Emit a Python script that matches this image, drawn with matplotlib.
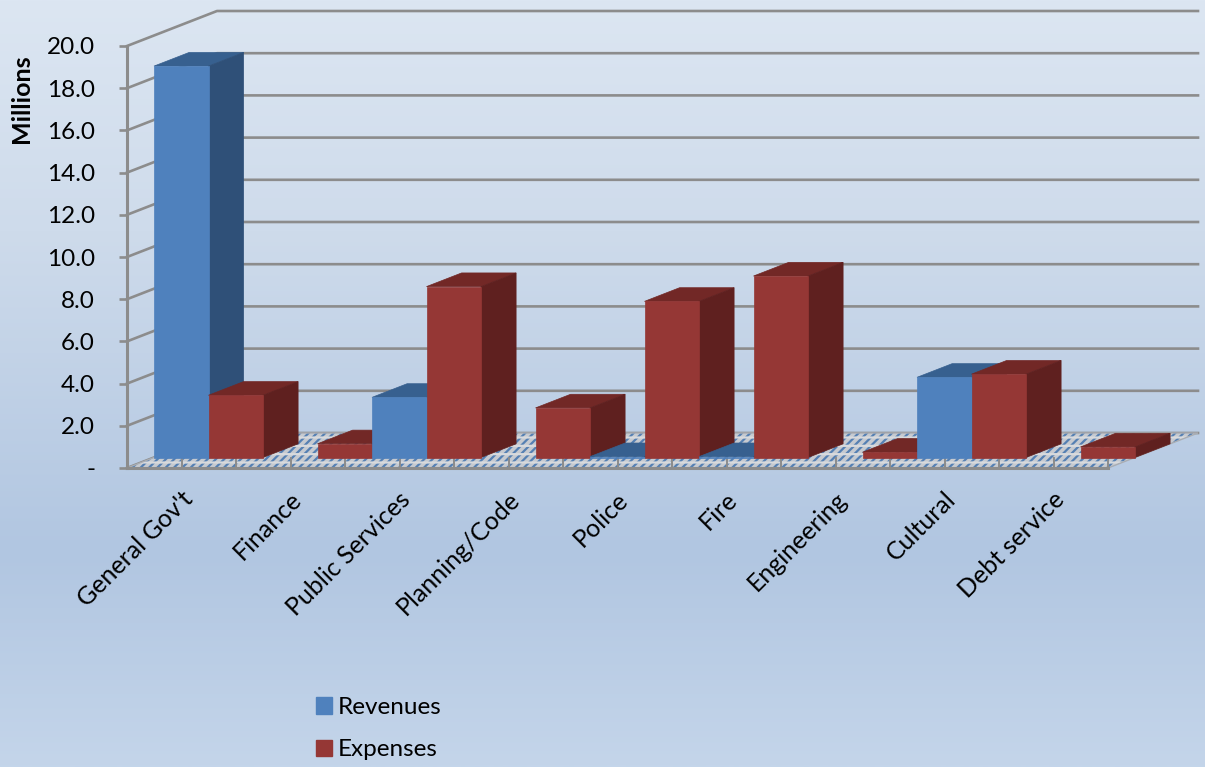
import matplotlib
matplotlib.use("Agg")
import numpy as np
import matplotlib.pyplot as plt
from matplotlib.patches import Polygon, Patch
from matplotlib.colors import LinearSegmentedColormap
from matplotlib.transforms import ScaledTranslation

categories = ["General Gov't", "Finance", "Public Services", "Planning/Code", "Police",
              "Fire", "Engineering", "Cultural", "Debt service"]
revenues = [18.55, 0.0, 2.85, 0.0, 0.04, 0.04, 0.0, 3.8, 0.0]
expenses = [2.95, 0.65, 8.1, 2.35, 7.4, 8.6, 0.25, 3.95, 0.5]
y_ticks = [0, 2, 4, 6, 8, 10, 12, 14, 16, 18, 20]
y_labels = ["-", "2.0", "4.0", "6.0", "8.0", "10.0", "12.0", "14.0", "16.0", "18.0", "20.0"]

plt.rcParams['font.family'] = ['Lato', 'DejaVu Sans']
plt.rcParams['hatch.linewidth'] = 1.6

W, H = 1205, 767
FS = 17.5
fig = plt.figure(figsize=(W / 100, H / 100), dpi=100)

bg = fig.add_axes([0, 0, 1, 1], zorder=-1)
cmap = LinearSegmentedColormap.from_list("bg", [(0, "#dce6f2"), (0.3, "#cedbeb"), (0.72, "#b1c6e1"), (1, "#c4d5ea")])
bg.imshow(np.linspace(0, 1, 256).reshape(-1, 1), cmap=cmap, aspect="auto", extent=[0, 1, 0, 1], origin="upper")
bg.axis("off")

ax = fig.add_axes([127 / W, (H - 468) / H, 981 / W, 422 / H])
ax.patch.set_visible(False)
ax.set_xlim(0, len(categories))
ax.set_ylim(0, 20)

# oblique projection of the depth axis, in data units
DX = 90 / 109
DY = 35 / 21.1
D0, D1 = 0.3, 0.69
GRID = "#8c8c8c"


def pt(x, y, d):
    return (x + DX * d, y + DY * d)


def box(x0, x1, v, front, top, side, z):
    ax.add_patch(Polygon([pt(x0, v, D0), pt(x1, v, D0), pt(x1, v, D1), pt(x0, v, D1)],
                         closed=True, fc=top, ec=top, lw=0.5, clip_on=False, zorder=z))
    ax.add_patch(Polygon([pt(x1, 0, D0), pt(x1, 0, D1), pt(x1, v, D1), pt(x1, v, D0)],
                         closed=True, fc=side, ec=side, lw=0.5, clip_on=False, zorder=z))
    ax.add_patch(Polygon([pt(x0, 0, D0), pt(x1, 0, D0), pt(x1, v, D0), pt(x0, v, D0)],
                         closed=True, fc=front, ec=front, lw=0.5, clip_on=False, zorder=z))


n = len(categories)
floor = [pt(0, 0, 0), pt(n, 0, 0), pt(n, 0, 1), pt(0, 0, 1)]
# floor: blue ground with pale diagonal dashes broken by blue bands
ax.add_patch(Polygon(floor, closed=True, fc="#c6cad0", ec="#5580b3", hatch="////", lw=0, clip_on=False, zorder=1))
ax.add_patch(Polygon(floor, closed=True, fill=False, ec="#d8dadd", hatch="--", lw=0, clip_on=False, zorder=1.05))
ax.add_patch(Polygon(floor, closed=True, fill=False, ec="#a9adb3", lw=1, clip_on=False, zorder=1.1))
# walls and floor divisions
for t in y_ticks:
    ax.plot([0, DX, n + DX], [t, t + DY, t + DY], color=GRID, lw=1.9, clip_on=False, zorder=0.5)
for i in range(2 * n + 1):
    x = i / 2
    ax.plot([x, x], [0, DY * D0], color=GRID, lw=1.4, clip_on=False, zorder=1.2)

# bars
z = 2
for i in range(n):
    if revenues[i] > 0:
        box(i, i + 0.5, revenues[i], "#4f81bd", "#37608f", "#2f5078", z)
    z += 1
    if expenses[i] > 0:
        box(i + 0.5, i + 1, expenses[i], "#953735", "#722826", "#5f201f", z)
    z += 1

# axes furniture
for s in ("top", "right"):
    ax.spines[s].set_visible(False)
for s in ("left", "bottom"):
    ax.spines[s].set_color(GRID)
    ax.spines[s].set_linewidth(2.2)
    ax.spines[s].set_zorder(1.5)
ax.set_yticks(y_ticks)
ax.set_yticklabels(y_labels, fontsize=FS, color="black")
ax.tick_params(axis="y", length=6, width=1.9, color=GRID, pad=17)
ax.set_xticks(np.arange(n) + 0.5)
ax.set_xticklabels(categories, fontsize=18, rotation=45, ha="right", va="top",
                   rotation_mode="anchor", color="black")
ax.tick_params(axis="x", length=0, pad=14)
offset = ScaledTranslation(-1 / 100, 0, fig.dpi_scale_trans)
for lab in ax.get_xticklabels():
    lab.set_transform(lab.get_transform() + offset)

ax.set_ylabel("Millions", fontsize=18, fontweight="bold", color="black")
ax.yaxis.set_label_coords((33 - 127) / 981, (468 - 99) / 422)

fig.legend(handles=[Patch(fc="#4f81bd", ec="#4f81bd", label="Revenues"),
                    Patch(fc="#953735", ec="#953735", label="Expenses")],
           loc="upper left", bbox_to_anchor=(316 / W, 1 - 697 / H), frameon=False,
           fontsize=FS, handlelength=0.66, handleheight=0.66, handletextpad=0.25,
           labelspacing=0.88, borderpad=0, borderaxespad=0)

fig.savefig("out.png", dpi=100)
